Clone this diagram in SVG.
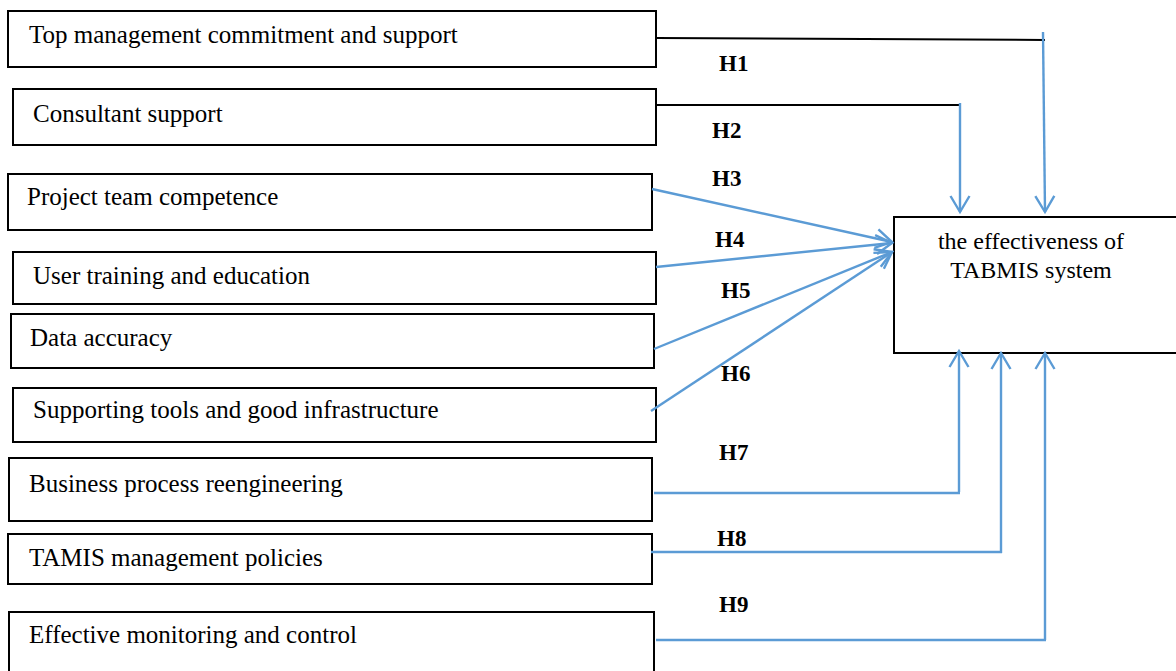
<svg xmlns="http://www.w3.org/2000/svg" width="1176" height="671" viewBox="0 0 1176 671">
  <style>
    .box { fill: #ffffff; stroke: #000000; stroke-width: 2; }
    .lbl { font-family: "Liberation Serif", "Times New Roman", serif; font-size: 25px; fill: #000000; }
    .ctr { font-family: "Liberation Serif", "Times New Roman", serif; font-size: 24px; fill: #000000; text-anchor: middle; }
    .h { font-family: "Liberation Serif", "Times New Roman", serif; font-size: 23px; font-weight: bold; fill: #000000; }
    .blk { fill: none; stroke: #000000; stroke-width: 2; }
    .blu { fill: none; stroke: #5B9BD5; stroke-width: 2.4; }
    .arr { fill: none; stroke: #5B9BD5; stroke-width: 2.4; marker-end: url(#arrow); }
  </style>
  <defs>
    <marker id="arrow" viewBox="-20 -12 24 24" refX="0" refY="0" markerWidth="24" markerHeight="24" markerUnits="userSpaceOnUse" orient="auto">
      <path d="M-16,-9.5 L0,0 L-16,9.5" fill="none" stroke="#5B9BD5" stroke-width="2.4"/>
    </marker>
  </defs>
  <rect width="1176" height="671" fill="#ffffff"/>

  <g id="n1"><rect class="box" x="8" y="11" width="648" height="56"/><text class="lbl" x="29" y="43">Top management commitment and support</text></g>
  <g id="n2"><rect class="box" x="13" y="89" width="643" height="56"/><text class="lbl" x="33" y="122">Consultant support</text></g>
  <g id="n3"><rect class="box" x="8" y="174" width="644" height="56"/><text class="lbl" x="27" y="205">Project team competence</text></g>
  <g id="n4"><rect class="box" x="13" y="252" width="643" height="52"/><text class="lbl" x="33" y="284">User training and education</text></g>
  <g id="n5"><rect class="box" x="11" y="314" width="643" height="54"/><text class="lbl" x="30" y="346">Data accuracy</text></g>
  <g id="n6"><rect class="box" x="13" y="388" width="643" height="54"/><text class="lbl" x="33" y="418">Supporting tools and good infrastructure</text></g>
  <g id="n7"><rect class="box" x="9" y="458" width="643" height="63"/><text class="lbl" x="29" y="492">Business process reengineering</text></g>
  <g id="n8"><rect class="box" x="8" y="534" width="644" height="50"/><text class="lbl" x="29" y="566">TAMIS management policies</text></g>
  <g id="n9"><rect class="box" x="9" y="612" width="645" height="80"/><text class="lbl" x="29" y="643">Effective monitoring and control</text></g>
  <g id="target"><rect class="box" x="894" y="217" width="300" height="136"/><text class="ctr" x="1031" y="249">the effectiveness of</text><text class="ctr" x="1031" y="278">TABMIS system</text></g>

  <g id="connectors">
    <polyline class="blk" points="656,38 1045,40"/>
    <line class="arr" x1="1043" y1="32" x2="1045" y2="212"/>
    <polyline class="blk" points="656,105 961,105"/>
    <line class="arr" x1="960" y1="103" x2="960" y2="212"/>
    <line class="arr" x1="652" y1="189" x2="892" y2="242"/>
    <line class="arr" x1="656" y1="267" x2="892" y2="243"/>
    <line class="arr" x1="654" y1="349" x2="892" y2="252"/>
    <line class="arr" x1="651" y1="411" x2="892" y2="252"/>
    <polyline class="blu" points="654,493 960,493"/>
    <line class="arr" x1="959" y1="492" x2="959" y2="351"/>
    <polyline class="blu" points="651,552 1002,552"/>
    <line class="arr" x1="1001" y1="553" x2="1001" y2="353"/>
    <polyline class="blu" points="656,640 1046,640"/>
    <line class="arr" x1="1045" y1="640" x2="1045" y2="353"/>
  </g>

  <g id="labels">
    <text class="h" x="719" y="71">H1</text>
    <text class="h" x="712" y="138">H2</text>
    <text class="h" x="712" y="186">H3</text>
    <text class="h" x="715" y="247">H4</text>
    <text class="h" x="721" y="298">H5</text>
    <text class="h" x="721" y="381">H6</text>
    <text class="h" x="719" y="460">H7</text>
    <text class="h" x="717" y="546">H8</text>
    <text class="h" x="719" y="612">H9</text>
  </g>
</svg>
